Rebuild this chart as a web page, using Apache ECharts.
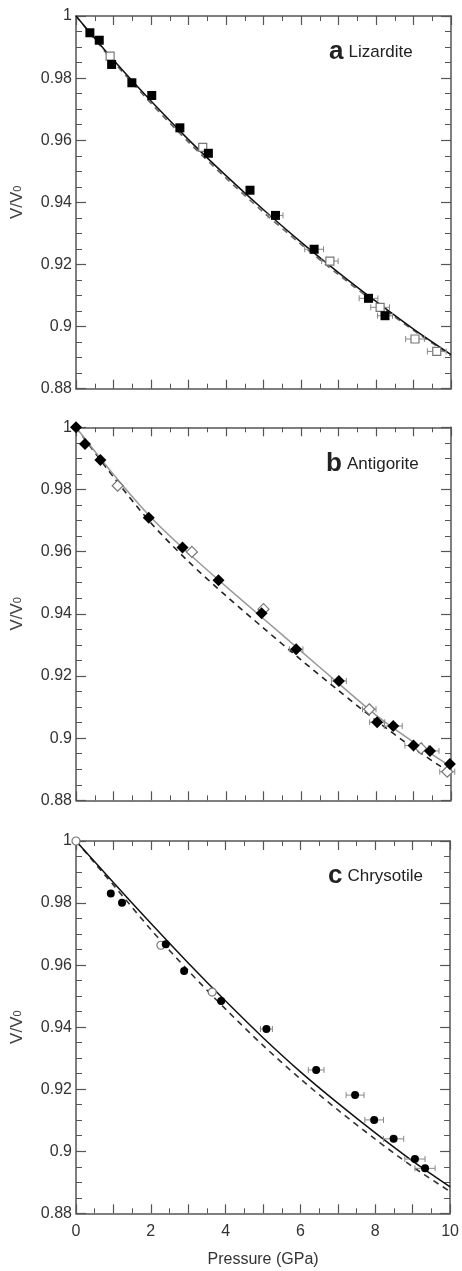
<!DOCTYPE html>
<html>
<head>
<meta charset="utf-8">
<script src="https://cdn.jsdelivr.net/npm/echarts@6/dist/echarts.min.js"></script>
<style>
  html, body { margin: 0; padding: 0; background: #fff; }
  #chart { width: 462px; height: 1271px; }
</style>
</head>
<body>
<div id="chart"></div>
<script>
// pressure grid (GPa) for the fitted curves
var pressureGrid = [0, 1, 2, 3, 4, 5, 6, 7, 8, 9, 10];

// a: Lizardite
var lizFitSolid = [1, 0.9858, 0.9726, 0.9602, 0.9486, 0.9376, 0.9272, 0.9174, 0.9081, 0.8992, 0.8910];
var lizFitDashed = [1, 0.9853, 0.9719, 0.9594, 0.9478, 0.9368, 0.9265, 0.9167, 0.9075, 0.8988, 0.8906];
var lizFilled = [[0.37, 0.9946], [0.62, 0.9922], [0.95, 0.9844], [1.49, 0.9785], [2.02, 0.9744], [2.77, 0.9640],
  [3.53, 0.9558], [4.64, 0.9439], [5.32, 0.9358], [6.35, 0.9249], [7.80, 0.9091], [8.24, 0.9035]];
var lizFilledErr = [0, 0, 0, 0, 0, 0, 0, 0, 0.2, 0.25, 0.25, 0.2];
var lizOpen = [[0.91, 0.9871], [3.38, 0.9577], [6.77, 0.9211], [8.11, 0.9062], [9.04, 0.8960], [9.62, 0.8920]];
var lizOpenErr = [0, 0, 0.22, 0.25, 0.25, 0.25];

// b: Antigorite
var antFitSolid = [1, 0.9848, 0.9710, 0.9595, 0.9488, 0.9384, 0.9280, 0.9176, 0.9074, 0.8987, 0.8908];
var antFitDashed = [1, 0.9840, 0.9692, 0.9568, 0.9458, 0.9354, 0.9252, 0.9153, 0.9057, 0.8968, 0.8887];
var antFilled = [[0, 1.0], [0.24, 0.9946], [0.65, 0.9895], [1.94, 0.9709], [2.84, 0.9613], [3.8, 0.9508],
  [4.95, 0.9402], [5.87, 0.9286], [7.01, 0.9184], [8.03, 0.9051], [8.46, 0.9039], [9.0, 0.8976],
  [9.44, 0.8959], [9.97, 0.8917]];
var antFilledErr = [0, 0, 0, 0, 0, 0, 0, 0.18, 0.2, 0.2, 0.24, 0.23, 0.24, 0];
var antOpen = [[1.11, 0.9812], [3.09, 0.9599], [5.0, 0.9415], [7.82, 0.9093], [9.2, 0.8967], [9.9, 0.8892]];
var antOpenErr = [0, 0, 0, 0.18, 0.2, 0.2];

// c: Chrysotile
var chrFitSolid = [1, 0.9866, 0.9735, 0.9607, 0.9484, 0.9366, 0.9256, 0.9155, 0.9059, 0.8968, 0.8885];
var chrFitDashed = [1, 0.9858, 0.9715, 0.9582, 0.9458, 0.9341, 0.9233, 0.9133, 0.9039, 0.8950, 0.8870];
var chrFilled = [[0.93, 0.9831], [1.23, 0.9801], [2.4, 0.9667], [2.89, 0.9581], [3.88, 0.9484], [5.09, 0.9394],
  [6.42, 0.9262], [7.46, 0.9181], [7.97, 0.9101], [8.49, 0.9040], [9.06, 0.8975], [9.33, 0.8945]];
var chrFilledErr = [0, 0, 0, 0, 0, 0.16, 0.21, 0.24, 0.25, 0.27, 0.27, 0.27];
var chrOpen = [[0, 1.0], [2.27, 0.9664], [3.64, 0.9513]];
var chrOpenErr = [0, 0, 0];

var yTicks = [0.88, 0.9, 0.92, 0.94, 0.96, 0.98, 1];

var FONT = '"Liberation Sans", Arial, sans-serif';
var AXIS_COLOR = '#555';

var panels = [
  { letter: 'a', name: 'Lizardite', top: 16, height: 372.7, titleLeft: 324, titleTop: 33,
    solid: lizFitSolid, dashed: lizFitDashed, filled: lizFilled, filledErr: lizFilledErr,
    open: lizOpen, openErr: lizOpenErr, symbol: 'rect', filledSize: 9, openSize: 8,
    solidColor: '#111', dashedColor: '#666' },
  { letter: 'b', name: 'Antigorite', top: 427.3, height: 373, titleLeft: 321, titleTop: 445,
    solid: antFitSolid, dashed: antFitDashed, filled: antFilled, filledErr: antFilledErr,
    open: antOpen, openErr: antOpenErr, symbol: 'diamond', filledSize: 12, openSize: 11,
    solidColor: '#999', dashedColor: '#222' },
  { letter: 'c', name: 'Chrysotile', top: 841, height: 372.3, titleLeft: 323, titleTop: 857,
    solid: chrFitSolid, dashed: chrFitDashed, filled: chrFilled, filledErr: chrFilledErr,
    open: chrOpen, openErr: chrOpenErr, symbol: 'circle', filledSize: 8, openSize: 8,
    solidColor: '#111', dashedColor: '#333' }
];

function withErr(points, errs) {
  var out = [];
  points.forEach(function (p, i) {
    if (errs[i] > 0) out.push([p[0], p[1], errs[i]]);
  });
  return out;
}

function renderErrorBar(params, api) {
  var x = api.value(0), y = api.value(1), e = api.value(2);
  var a = api.coord([x - e, y]);
  var b = api.coord([x + e, y]);
  var cap = 3;
  var st = { stroke: '#888', lineWidth: 1 };
  return {
    type: 'group',
    children: [
      { type: 'line', shape: { x1: a[0], y1: a[1], x2: b[0], y2: b[1] }, style: st },
      { type: 'line', shape: { x1: a[0], y1: a[1] - cap, x2: a[0], y2: a[1] + cap }, style: st },
      { type: 'line', shape: { x1: b[0], y1: b[1] - cap, x2: b[0], y2: b[1] + cap }, style: st }
    ]
  };
}

var grids = [], xAxes = [], yAxes = [], series = [], titles = [];

panels.forEach(function (pn, gi) {
  var last = gi === panels.length - 1;
  grids.push({ left: 76, width: 375, top: pn.top, height: pn.height });

  // bottom / top x axes
  [0, 1].forEach(function (k) {
    var bottom = k === 0;
    xAxes.push({
      type: 'value', gridIndex: gi, position: bottom ? 'bottom' : 'top',
      min: 0, max: 10, interval: 1,
      axisLine: { show: true, onZero: false, lineStyle: { color: AXIS_COLOR, width: 1.5 } },
      axisTick: { show: true, inside: true, length: 9, lineStyle: { color: AXIS_COLOR, width: 1.2 } },
      minorTick: { show: true, splitNumber: 2, length: 5, lineStyle: { color: AXIS_COLOR, width: 1 } },
      splitLine: { show: false },
      axisLabel: {
        show: bottom && last, margin: 10, color: '#333', fontSize: 16, fontFamily: FONT,
        formatter: function (v) { return v % 2 === 0 ? String(v) : ''; }
      },
      name: bottom && last ? 'Pressure (GPa)' : '',
      nameLocation: 'middle', nameGap: 38,
      nameTextStyle: { color: '#333', fontSize: 16, fontFamily: FONT }
    });
  });

  // left / right y axes
  [0, 1].forEach(function (k) {
    var left = k === 0;
    yAxes.push({
      type: 'value', gridIndex: gi, position: left ? 'left' : 'right',
      min: yTicks[0], max: yTicks[yTicks.length - 1], interval: 0.02,
      axisLine: { show: true, onZero: false, lineStyle: { color: AXIS_COLOR, width: 1.5 } },
      axisTick: { show: true, inside: true, length: 10, lineStyle: { color: AXIS_COLOR, width: 1.2 } },
      minorTick: { show: true, splitNumber: 4, length: 6, lineStyle: { color: AXIS_COLOR, width: 1 } },
      splitLine: { show: false },
      axisLabel: {
        show: left, margin: 4, color: '#333', fontSize: 16, fontFamily: FONT,
        formatter: function (v) { return String(+v.toFixed(2)); }
      },
      name: left ? '{v|V/V}{s|0}' : '',
      nameLocation: 'middle', nameRotate: 90, nameGap: 50,
      nameTextStyle: {
        color: '#444', fontFamily: FONT,
        rich: {
          v: { fontSize: 17, fontFamily: FONT, color: '#444' },
          s: { fontSize: 11, fontFamily: FONT, color: '#444' }
        }
      }
    });
  });

  var xi = gi * 2, yi = gi * 2;

  series.push({
    type: 'line', xAxisIndex: xi, yAxisIndex: yi, smooth: 0.3, showSymbol: false, silent: true,
    data: pressureGrid.map(function (p, i) { return [p, pn.dashed[i]]; }),
    lineStyle: { color: pn.dashedColor, width: 1.6, type: [6, 5] }, z: 1
  });
  series.push({
    type: 'line', xAxisIndex: xi, yAxisIndex: yi, smooth: 0.3, showSymbol: false, silent: true,
    data: pressureGrid.map(function (p, i) { return [p, pn.solid[i]]; }),
    lineStyle: { color: pn.solidColor, width: 1.5 }, z: 1
  });
  series.push({
    type: 'custom', xAxisIndex: xi, yAxisIndex: yi, renderItem: renderErrorBar,
    data: withErr(pn.open, pn.openErr).concat(withErr(pn.filled, pn.filledErr)), z: 2, clip: false
  });
  series.push({
    type: 'scatter', xAxisIndex: xi, yAxisIndex: yi, symbol: pn.symbol, symbolSize: pn.openSize,
    data: pn.open, clip: false,
    itemStyle: { color: '#fff', borderColor: '#777', borderWidth: 1.2, opacity: 1 }, z: 3
  });
  series.push({
    type: 'scatter', xAxisIndex: xi, yAxisIndex: yi, symbol: pn.symbol, symbolSize: pn.filledSize,
    data: pn.filled, clip: false,
    itemStyle: { color: '#000', opacity: 1 }, z: 4
  });

  titles.push({
    left: pn.titleLeft, top: pn.titleTop,
    text: '{b|' + pn.letter + '} {n|' + pn.name + '}',
    textStyle: {
      fontWeight: 'normal',
      rich: {
        b: { fontSize: 26, fontWeight: 'bold', color: '#222', fontFamily: FONT, lineHeight: 28 },
        n: { fontSize: 17, fontWeight: 'normal', color: '#222', fontFamily: FONT, lineHeight: 28 }
      }
    }
  });
});

var chart = echarts.init(document.getElementById('chart'), null, { renderer: 'canvas' });
chart.setOption({
  backgroundColor: '#fff',
  animation: false,
  title: titles,
  grid: grids,
  xAxis: xAxes,
  yAxis: yAxes,
  series: series
});
</script>
</body>
</html>
